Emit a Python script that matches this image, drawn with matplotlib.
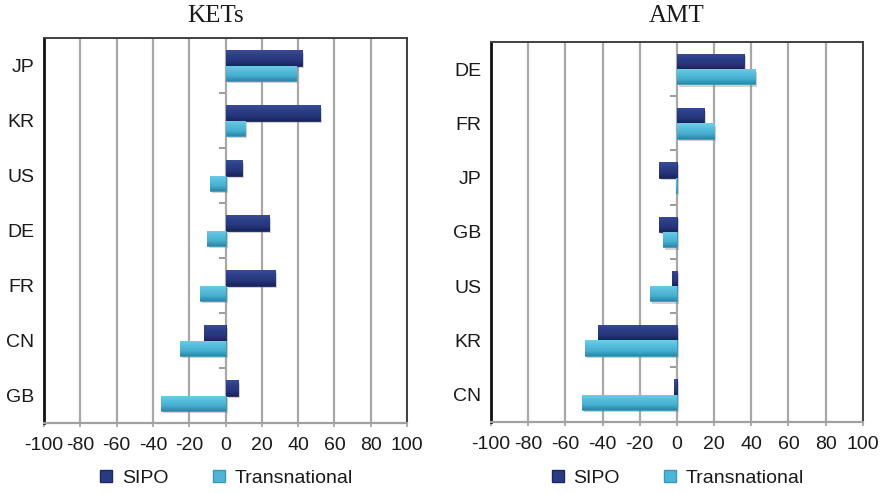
import numpy as np
import matplotlib
matplotlib.use("Agg")
import matplotlib.pyplot as plt
import matplotlib.transforms as mtransforms
from matplotlib.colors import LinearSegmentedColormap
from matplotlib.lines import Line2D

# ---- data ----
kets_countries = ["JP", "KR", "US", "DE", "FR", "CN", "GB"]
kets_sipo = [42, 52, 9, 24, 27, -12, 7]
kets_trans = [39, 11, -8.5, -10, -14, -25, -35.5]

amt_countries = ["DE", "FR", "JP", "GB", "US", "KR", "CN"]
amt_sipo = [36, 14.5, -9.5, -9.5, -2.7, -42.7, -1.6]
amt_trans = [42, 20, -0.5, -7.5, -14.5, -49.5, -51]

x_ticks = [-100, -80, -60, -40, -20, 0, 20, 40, 60, 80, 100]
series_names = ["SIPO", "Transnational"]

# ---- style ----
SIPO_COLOR = "#2a3b85"
TRANS_COLOR = "#4cb6d6"
sipo_cmap = LinearSegmentedColormap.from_list(
    "sipo", ["#3a4c96", "#2c3e88", "#26377c", "#18245a"])
trans_cmap = LinearSegmentedColormap.from_list(
    "trans", ["#72cde6", "#55bedc", "#47b0d0", "#2e86a8"])

plt.rcParams["font.family"] = ["Liberation Sans", "DejaVu Sans"]

fig = plt.figure(figsize=(8.8, 4.94), dpi=100)

BAR_H = 0.28


def shade_bars(ax, bars, cmap):
    """Fill each bar with a vertical gradient clipped to its rectangle."""
    grad = np.linspace(0, 1, 64).reshape(-1, 1)
    for b in bars:
        x0, y0 = b.get_x(), b.get_y()
        w, h = b.get_width(), b.get_height()
        if w == 0:
            continue
        im = ax.imshow(grad, cmap=cmap, aspect="auto",
                       extent=(x0, x0 + w, y0 + h, y0),
                       origin="upper", zorder=b.get_zorder() + 0.1,
                       interpolation="bilinear")
        im.set_clip_path(b)


def panel(rect, title, title_x, countries, sipo, trans, legend_y):
    ax = fig.add_axes(rect)
    pos = np.arange(len(countries))

    # soft drop shadows
    shadow_tr = mtransforms.offset_copy(ax.transData, fig=fig, x=2.0, y=-2.5, units="dots")
    for vals, off in ((sipo, -BAR_H / 2), (trans, BAR_H / 2)):
        ax.barh(pos + off, vals, height=BAR_H, color="#808080", alpha=0.35,
                transform=shadow_tr, zorder=2, linewidth=0)

    b1 = ax.barh(pos - BAR_H / 2, sipo, height=BAR_H, color=SIPO_COLOR,
                 edgecolor="#1c2760", linewidth=0.6, zorder=3, label=series_names[0])
    b2 = ax.barh(pos + BAR_H / 2, trans, height=BAR_H, color=TRANS_COLOR,
                 edgecolor="#3a98b8", linewidth=0.6, zorder=3, label=series_names[1])
    shade_bars(ax, b1, sipo_cmap)
    shade_bars(ax, b2, trans_cmap)

    ax.set_xlim(-100, 100)
    ax.set_ylim(len(countries) - 0.5, -0.5)
    ax.set_xticks(x_ticks)
    ax.set_xticklabels([str(t) for t in x_ticks])
    ax.set_yticks(pos)
    ax.set_yticklabels(countries)
    ax.tick_params(axis="y", length=0, pad=7, labelsize=14, colors="#1a1a1a")
    ax.tick_params(axis="x", length=3, width=1.2, color="#a0a0a0", pad=7,
                   labelsize=14, labelcolor="#1a1a1a")

    ax.grid(axis="x", color="#a8a8a8", linewidth=1.6, zorder=1)
    ax.set_axisbelow(True)

    ax.spines["left"].set_color("#111111")
    ax.spines["left"].set_linewidth(2.0)
    ax.spines["bottom"].set_color("#a0a0a0")
    ax.spines["bottom"].set_linewidth(1.6)
    for s in ("top", "right"):
        ax.spines[s].set_color("#404040")
        ax.spines[s].set_linewidth(1.4)

    # category boundary ticks along the zero line, pointing left
    sec = ax.secondary_yaxis(0.5)
    sec.set_yticks(pos[:-1] + 0.5)
    sec.set_yticklabels([])
    sec.tick_params(axis="y", length=5, width=1.2, color="#8a8a8a", direction="in")
    sec.spines["left"].set_visible(False)
    sec.spines["right"].set_visible(False)

    fig.text(title_x, 0.968, title, ha="center", va="center",
             fontsize=18, family=["Liberation Serif", "DejaVu Serif"], color="#1a1a1a")

    handles = [
        Line2D([], [], linestyle="none", marker="s", markersize=8,
               markerfacecolor=SIPO_COLOR, markeredgecolor="#1c2760"),
        Line2D([], [], linestyle="none", marker="s", markersize=8,
               markerfacecolor=TRANS_COLOR, markeredgecolor="#3a98b8"),
    ]
    ax.legend(handles, series_names, loc="center", bbox_to_anchor=(0.5, legend_y),
              ncol=2, frameon=False, fontsize=14, handlelength=0.8,
              handletextpad=0.4, columnspacing=2.2, labelcolor="#1a1a1a")
    return ax


panel([0.050, 0.1437, 0.4125, 0.7793], "KETs", 216 / 880,
      kets_countries, kets_sipo, kets_trans, -0.143)
panel([0.558, 0.1464, 0.4224, 0.7686], "AMT", 676.5 / 880,
      amt_countries, amt_sipo, amt_trans, -0.148)

fig.savefig("out.png", dpi=100, facecolor="white")
